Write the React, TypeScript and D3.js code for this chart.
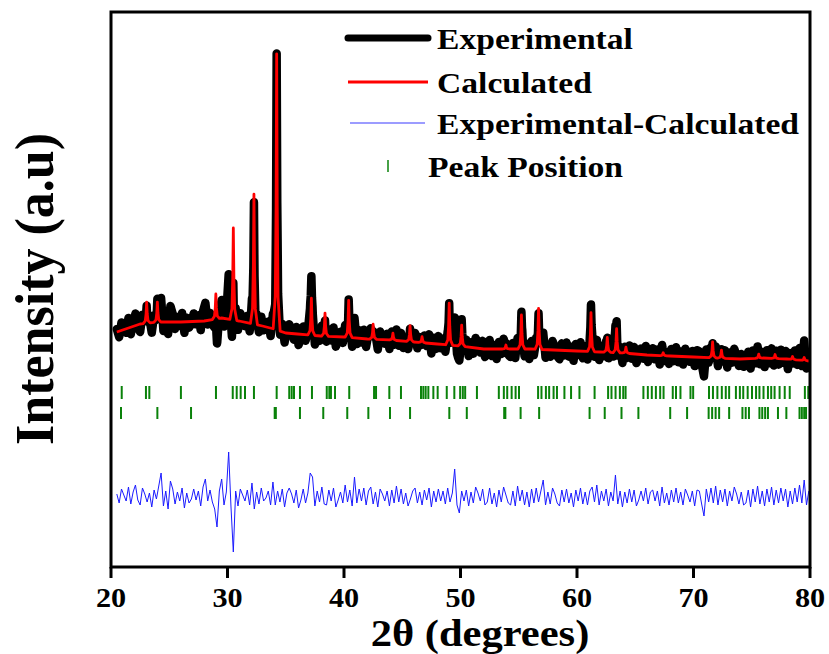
import React from "react";
import * as d3 from "d3";

const W = 829;
const H = 654;
const M = { left: 111, right: 810, top: 12, bottom: 567 };
const FONT = "'Liberation Serif', 'Times New Roman', serif";

const xTicks = [20, 30, 40, 50, 60, 70, 80];
const legendLabels = ["Experimental", "Calculated", "Experimental-Calculated", "Peak Position"];

// Calculated background (2θ, intensity a.u.)
const backgroundTheta = [20.5, 21.5, 22.5, 24, 26, 28, 29.5, 31, 33, 34, 35, 36, 38, 40, 42, 44, 46, 48, 50, 52, 54, 56, 58, 60, 62, 64, 66, 68, 70, 72, 74, 76, 78, 80];
const backgroundIntensity = [235, 239, 243, 245, 245, 246, 249, 246, 241, 238, 234, 233, 231, 230, 228, 227, 225, 223, 221, 218, 218, 218, 217, 216, 215, 214, 212, 211, 210, 209, 208, 209, 208, 206];

// Calculated peaks (2θ, height above background)
const calcPeakTheta = [23.06, 23.98, 29.0, 30.5, 32.27, 34.22, 37.2, 38.37, 40.4, 42.5, 44.2, 45.67, 46.7, 49.03, 50.1, 53.9, 55.23, 56.7, 61.2, 62.6, 63.4, 64.2, 67.4, 71.64, 72.4, 75.6, 77.0, 78.5, 79.5];
const calcPeakHeight = [21, 20, 25, 92, 130, 276, 37, 23, 37, 15, 7, 16, 6, 42, 21, 4, 34, 41, 39, 15, 24, 6, 3, 16, 8, 4, 4, 3, 3];
// peak profile table (offset in 2θ, fraction of height)
const PROFILE_DX = [-0.3, -0.12, -0.05, 0, 0.05, 0.12, 0.3];
const PROFILE_F = [0, 0.12, 0.45, 1, 0.45, 0.12, 0];

// Experimental - Calculated, sampled from 20.5° every 0.2°
const diffStart = 20.5;
const diffStep = 0.2;
const diffValues = [
  3, -6, 8, 2, -4, 10, -7, 5, 12, -3,
  -8, 9, 3, -5, 4, -10, 7, -2, 11, 24,
  -9, 6, -12, 16, 8, -7, 5, -4, 9, -11,
  4, -6, -2, 8, -3, 6, -9, 10, 18, -4,
  7, -5, -12, -30, 6, 18, -8, 5, 45, -10,
  -55, 6, -9, 8, 2, -4, 7, -8, 14, -12,
  5, -7, 9, -4, -1, 6, -8, 15, -8, 6,
  -5, 8, -10, 4, 9, 3, -6, 7, -11, -3,
  8, -6, 4, 24, 20, -9, 6, -5, 10, -7,
  -8, 7, -4, 9, -10, -3, 5, -6, 12, -5,
  7, -9, 20, -6, 8, -4, 9, -8, 6, 10,
  -7, 5, -10, 8, 3, -4, 6, -9, 7, -6,
  11, -5, 8, -7, 4, -9, -2, 6, 9, -6,
  5, -8, 7, -3, 9, -10, 6, -5, 8, -4,
  6, -7, 9, -5, 4, 28, -8, -16, 6, -4,
  7, -9, 5, -6, 10, 4, -4, 8, -8, -5,
  9, -7, 4, -10, 7, -5, 10, 2, -6, -8,
  6, -9, 11, -4, 7, -8, 5, -10, 8, -6,
  9, -5, 6, 17, -8, 5, -7, 9, 3, -6,
  -9, 7, -5, 8, -6, 4, -10, 7, -4, 9,
  -7, 5, -8, 6, 10, -5, 12, -8, 6, -4,
  8, -9, 5, -4, 22, -7, 6, -10, 5, -6,
  8, -5, 7, -9, -3, 6, -4, 9, -7, 5,
  7, -4, 6, -9, 10, -6, 4, -8, 7, -5,
  9, -6, 5, -8, 8, 2, -5, 6, -9, 7,
  6, -7, -19, 8, -5, 9, -6, 11, -8, 7,
  -5, 8, -9, 6, -4, 10, 3, -7, 5, -8,
  -6, 7, -10, 8, -5, 11, -7, 6, -9, 8,
  -5, 10, -8, 7, -6, 9, -4, 8, -10, 6,
  -7, 9, -5, 12, -6, 17, -8, 6,
];
const diffOffset = 70;

// Bragg peak positions (two phases)
const peakRow1 = [20.92, 23.0, 23.29, 26.0, 29.01, 30.45, 30.79, 31.13, 31.5, 32.27, 34.22, 35.3, 35.51, 35.71, 36.22, 37.25, 38.52, 38.74, 38.88, 39.23, 40.45, 42.58, 42.75, 43.89, 44.89, 46.61, 46.81, 47.01, 47.24, 47.67, 48.04, 48.82, 49.47, 49.97, 50.2, 50.4, 51.41, 53.29, 53.72, 54.01, 54.39, 54.73, 55.02, 56.66, 56.95, 57.33, 57.61, 57.99, 58.28, 58.92, 59.49, 60.21, 61.51, 62.67, 62.96, 63.31, 63.68, 63.97, 64.17, 65.7, 66.08, 66.42, 66.77, 67.14, 67.43, 68.22, 68.5, 68.88, 69.74, 69.97, 71.33, 71.67, 72.05, 72.43, 72.77, 73.06, 73.64, 73.98, 74.27, 74.65, 75.02, 75.37, 75.66, 76.01, 76.39, 76.67, 76.96, 77.39, 77.83, 78.26, 79.56, 79.85];
const peakRow2 = [20.86, 23.98, 26.87, 34.05, 34.15, 36.22, 38.22, 40.28, 42.09, 43.95, 45.67, 49.04, 50.54, 53.75, 53.85, 55.16, 56.75, 61.08, 62.38, 63.82, 65.27, 68.0, 69.45, 71.3, 71.6, 71.9, 72.2, 73.06, 74.2, 74.48, 74.76, 75.66, 75.9, 76.15, 76.39, 77.25, 77.97, 79.1, 79.3, 79.5, 79.66];

export default function App() {
  const x = d3.scaleLinear().domain([20, 80]).range([M.left, M.right]);
  const y = d3.scaleLinear().domain([0, 555]).range([M.bottom, M.top]);
  const bg = d3.scaleLinear().domain(backgroundTheta).range(backgroundIntensity);

  const lo = PROFILE_DX[0];
  const hi = PROFILE_DX[PROFILE_DX.length - 1];
  const calcPts: [number, number][] = backgroundTheta
    .filter((t) => !calcPeakTheta.some((p) => t > p + lo && t < p + hi))
    .map((t) => [t, bg(t)]);
  calcPeakTheta.forEach((p, i) =>
    PROFILE_DX.forEach((dx, j) => calcPts.push([p + dx, bg(p + dx) + calcPeakHeight[i] * PROFILE_F[j]]))
  );
  calcPts.sort((a, b) => a[0] - b[0]);
  const calc = d3.scaleLinear().domain(calcPts.map((d) => d[0])).range(calcPts.map((d) => d[1])).clamp(true);

  const diffTheta = diffValues.map((_, i) => diffStart + i * diffStep);
  const diff = d3.scaleLinear().domain(diffTheta).range(diffValues).clamp(true);
  const lastDiff = diffTheta[diffTheta.length - 1];
  const expTheta = Array.from(new Set([...diffTheta, ...calcPts.map((d) => d[0])]))
    .filter((t) => t >= diffStart && t <= lastDiff)
    .sort((a, b) => a - b);
  const expPts: [number, number][] = expTheta.map((t) => [t, calc(t) + diff(t)]);

  const line = d3
    .line<[number, number]>()
    .x((d) => x(d[0]))
    .y((d) => y(d[1]));
  const diffPts: [number, number][] = diffTheta.map((t, i) => [t, diffOffset + diffValues[i]]);

  const row1 = [386, 399];
  const row2 = [407, 419];
  const sx = "scale(1.12,1)";

  const legendX1 = 348;
  const legendX2 = 428;
  const legendTextX = 437;
  const legendRows = [38, 82, 123, 166];

  return (
    <svg width={W} height={H} style={{ position: "absolute", left: 0, top: 0, background: "#fff" }} fontFamily={FONT} fontWeight="bold">
      <defs>
        <clipPath id="plot">
          <rect x={M.left} y={M.top} width={M.right - M.left} height={M.bottom - M.top} />
        </clipPath>
      </defs>
      <rect width={W} height={H} fill="#fff" />
      <g clipPath="url(#plot)">
        <path d={line(expPts) || ""} fill="none" stroke="#000" strokeWidth={8.5} strokeLinejoin="round" strokeLinecap="round" />
        <path d={line(calcPts) || ""} fill="none" stroke="#ff0000" strokeWidth={2.8} strokeLinejoin="round" />
        {peakRow1.map((t, i) => (
          <line key={"r1" + i} x1={x(t)} x2={x(t)} y1={row1[0]} y2={row1[1]} stroke="#0a820a" strokeWidth={2} />
        ))}
        {peakRow2.map((t, i) => (
          <line key={"r2" + i} x1={x(t)} x2={x(t)} y1={row2[0]} y2={row2[1]} stroke="#0a820a" strokeWidth={2} />
        ))}
        <path d={line(diffPts) || ""} fill="none" stroke="#1a1aff" strokeWidth={1} strokeLinejoin="round" />
      </g>
      <rect x={M.left} y={M.top} width={M.right - M.left} height={M.bottom - M.top} fill="none" stroke="#000" strokeWidth={3} />
      {xTicks.map((t) => (
        <g key={t}>
          <line x1={x(t)} x2={x(t)} y1={M.bottom} y2={M.bottom + 11} stroke="#000" strokeWidth={3} />
          <text transform={`translate(${x(t)},607) ${sx}`} textAnchor="middle" fontSize={27} fill="#000">
            {t}
          </text>
        </g>
      ))}
      <text transform={`translate(480,646) ${sx}`} textAnchor="middle" fontSize={38} fill="#000">
        2θ (degrees)
      </text>
      <text transform={`translate(53,289) scale(1.05,1) rotate(-90)`} textAnchor="middle" fontSize={52} fill="#000">
        Intensity (a.u)
      </text>
      {/* legend */}
      <line x1={legendX1} x2={legendX2} y1={legendRows[0]} y2={legendRows[0]} stroke="#000" strokeWidth={7} strokeLinecap="round" />
      <line x1={legendX1} x2={legendX2} y1={legendRows[1]} y2={legendRows[1]} stroke="#ff0000" strokeWidth={2.8} />
      <line x1={legendX1 + 2} x2={legendX2 - 3} y1={legendRows[2]} y2={legendRows[2]} stroke="#7b7bff" strokeWidth={1.5} />
      <line x1={388} x2={388} y1={legendRows[3] - 6} y2={legendRows[3] + 6} stroke="#0a820a" strokeWidth={1.5} />
      {legendLabels.map((s, i) => (
        <text key={s} transform={`translate(${i === 3 ? 428 : legendTextX},${legendRows[i] + 11}) ${sx}`} fontSize={30} fill="#000">
          {s}
        </text>
      ))}
    </svg>
  );
}
